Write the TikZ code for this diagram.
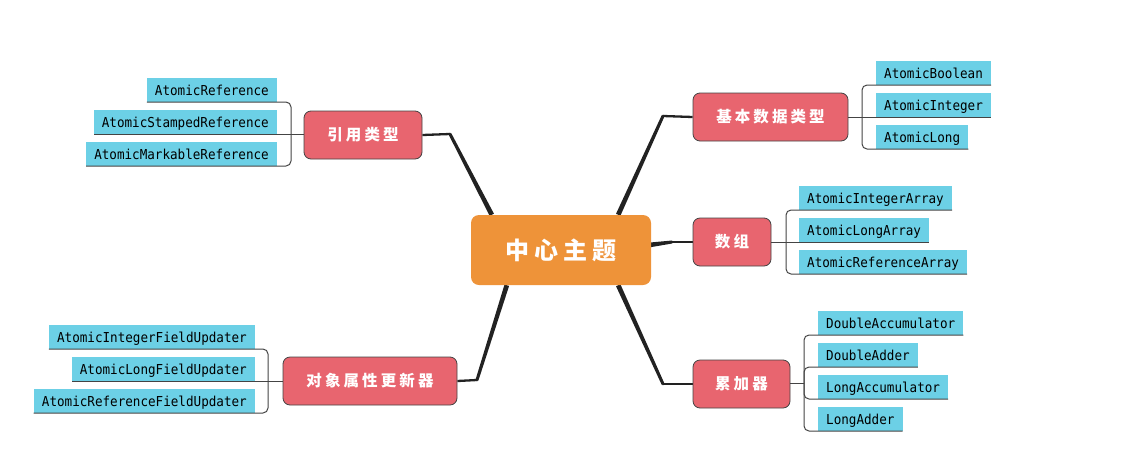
\documentclass[tikz,border=0pt]{standalone}
\usepackage{fontspec}
\setmonofont{DejaVu Sans Mono}[FakeStretch=0.92]
\newfontfamily\cjk[LetterSpace=20]{Noto Sans CJK SC}
\usetikzlibrary{calc,backgrounds}
\definecolor{corange}{HTML}{EE9339}
\definecolor{cred}{HTML}{E8656F}
\definecolor{ccyan}{HTML}{6CD0E6}
\definecolor{cline}{HTML}{222222}
\definecolor{cul}{HTML}{444444}
\newcommand\mytaper[3]{%
  \fill[cline] ($(#1)!2.4pt!90:(#2)$) -- ($(#2)!1.5pt!-90:(#1)$) -- ($(#2)!1.5pt!90:(#1)$) -- ($(#1)!2.4pt!-90:(#2)$) -- cycle;
  \fill[cline] (#2) circle (1.4pt);
  \draw[cline, line width=2.3pt] (#2) -- (#3);
}
\tikzset{
  centerbox/.style={fill=corange, rounded corners=8pt, minimum width=180pt, minimum height=70pt, inner sep=0pt, text=white, font=\fontsize{24}{28}\cjk\bfseries},
  branchbox/.style={fill=cred, draw=cline!85, line width=0.8pt, rounded corners=7pt, minimum height=48pt, inner sep=0pt, text=white, font=\fontsize{15.5}{18}\cjk\bfseries},
  leaf/.style={fill=ccyan, inner xsep=8pt, inner ysep=0pt, text height=17.5pt, text depth=6pt, minimum height=23.5pt, font=\fontsize{13.7}{15}\ttfamily},
  ul/.style={draw=cul, line width=1pt, rounded corners=5pt},
}
\begin{document}
\begin{tikzpicture}[x=1pt,y=-1pt]
\useasboundingbox (0,0) rectangle (1142,461);
% center
\node[centerbox] (center) at (561,250) {中心主题};
% branches
\node[branchbox, minimum width=118pt] (ref) at (363,135) {引用类型};
\node[branchbox, minimum width=155pt] (base) at (770.5,117) {基本数据类型};
\node[branchbox, minimum width=78pt] (arr) at (732,242) {数组};
\node[branchbox, minimum width=97pt] (acc) at (741.5,384) {累加器};
\node[branchbox, minimum width=174pt] (upd) at (370,381) {对象属性更新器};
% leaves: ref (right aligned)
\node[leaf, anchor=south east] (r1) at (277,102) {AtomicReference};
\node[leaf, anchor=south east] (r2) at (277,134) {AtomicStampedReference};
\node[leaf, anchor=south east] (r3) at (277,166) {AtomicMarkableReference};
% leaves: base
\node[leaf, anchor=south west] (b1) at (876,85) {AtomicBoolean};
\node[leaf, anchor=south west] (b2) at (876,117) {AtomicInteger};
\node[leaf, anchor=south west] (b3) at (876,149) {AtomicLong};
% leaves: array
\node[leaf, anchor=south west] (a1) at (799,210) {AtomicIntegerArray};
\node[leaf, anchor=south west] (a2) at (799,242) {AtomicLongArray};
\node[leaf, anchor=south west] (a3) at (799,274) {AtomicReferenceArray};
% leaves: accumulator
\node[leaf, anchor=south west] (c1) at (818,335) {DoubleAccumulator};
\node[leaf, anchor=south west] (c2) at (818,367) {DoubleAdder};
\node[leaf, anchor=south west] (c3) at (818,399) {LongAccumulator};
\node[leaf, anchor=south west] (c4) at (818,431) {LongAdder};
% leaves: updater
\node[leaf, anchor=south east] (u1) at (255,349) {AtomicIntegerFieldUpdater};
\node[leaf, anchor=south east] (u2) at (255,381) {AtomicLongFieldUpdater};
\node[leaf, anchor=south east] (u3) at (255,413) {AtomicReferenceFieldUpdater};
% bracket junction points
\coordinate (jr) at (291,134);
\coordinate (jb) at (862,117);
\coordinate (ja) at (786,242);
\coordinate (jc) at (804,383);
\coordinate (ju) at (268,381);
% leaf underlines and brackets
\draw[ul] (jr) |- (r1.south west);
\draw[ul] (ref.west |- jr) -- (r2.south west);
\draw[ul] (jr) |- (r3.south west);
\draw[ul] (jb) |- (b1.south east);
\draw[ul] (base.east |- jb) -- (b2.south east);
\draw[ul] (jb) |- (b3.south east);
\draw[ul] (ja) |- (a1.south east);
\draw[ul] (arr.east |- ja) -- (a2.south east);
\draw[ul] (ja) |- (a3.south east);
\draw[ul] (acc.east |- jc) -- (jc);
\draw[ul] (jc) |- (c1.south east);
\draw[ul] (jc) |- (c2.south east);
\draw[ul] (jc) |- (c3.south east);
\draw[ul] (jc) |- (c4.south east);
\draw[ul] (ju) |- (u1.south west);
\draw[ul] (upd.west |- ju) -- (u2.south west);
\draw[ul] (ju) |- (u3.south west);
% main connectors
\coordinate (kr) at (450,134);
\coordinate (kb) at (663,116);
\coordinate (ka) at (672,242);
\coordinate (kc) at (663,384);
\coordinate (ku) at (477,380);
\begin{scope}[on background layer]
\coordinate (sr) at ($(center.north west)+(21,0)$);
\coordinate (sb) at ($(center.north east)+(-33,0)$);
\coordinate (sa) at ($(center.east)+(-2,-5)$);
\coordinate (sc) at ($(center.south east)+(-33,0)$);
\coordinate (su) at ($(center.south west)+(36,0)$);
\mytaper{sr}{kr}{ref.east}
\mytaper{sb}{kb}{base.west}
\mytaper{sa}{ka}{arr.west}
\mytaper{sc}{kc}{acc.west}
\mytaper{su}{ku}{upd.east}
\end{scope}
\end{tikzpicture}
\end{document}
